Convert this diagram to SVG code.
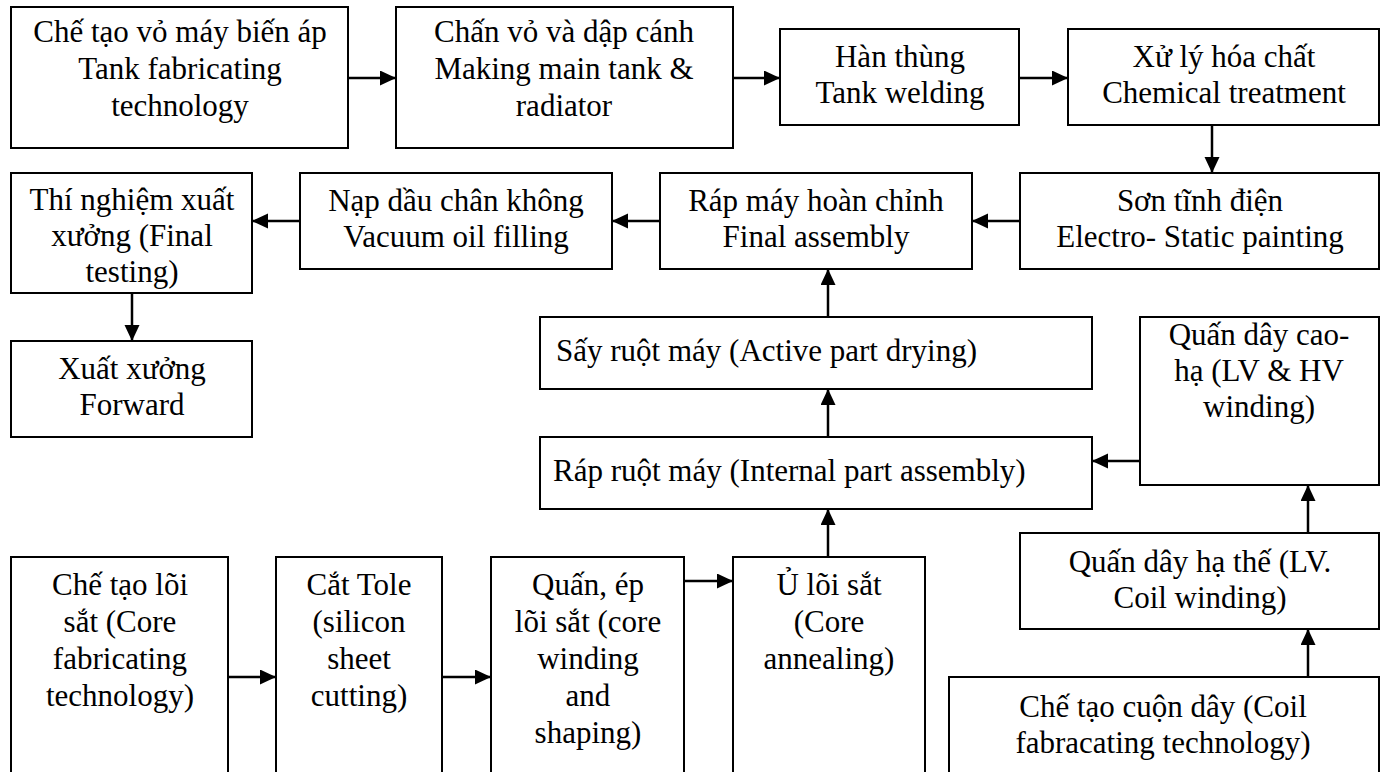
<svg xmlns="http://www.w3.org/2000/svg" width="1386" height="772" viewBox="0 0 1386 772">
<style>
rect{fill:#fff;stroke:#000;stroke-width:2}
text{font-family:"Liberation Serif","Times New Roman",serif;font-size:31px;fill:#000;text-anchor:middle}
text.l{text-anchor:start}
#connectors line{stroke:#000;stroke-width:2.5;marker-end:url(#ah)}
</style>
<defs>
<marker id="ah" markerUnits="userSpaceOnUse" markerWidth="17" markerHeight="16" refX="16" refY="7.5" orient="auto">
<path d="M0,0 L16,7.5 L0,15 z" fill="#000"/>
</marker>
</defs>
<rect x="0" y="0" width="1386" height="772" style="stroke:none"/>
<g id="n1"><rect x="11" y="7" width="337" height="141"/>
<text x="180" y="42">Chế tạo vỏ máy biến áp</text><text x="180" y="79">Tank fabricating</text><text x="180" y="116">technology</text></g>
<g id="n2"><rect x="396" y="7" width="337" height="141"/>
<text x="564" y="42">Chấn vỏ và dập cánh</text><text x="564" y="79">Making main tank &amp;</text><text x="564" y="116">radiator</text></g>
<g id="n3"><rect x="780" y="29" width="239" height="96"/>
<text x="900" y="67">Hàn thùng</text><text x="900" y="103">Tank welding</text></g>
<g id="n4"><rect x="1068" y="29" width="311" height="96"/>
<text x="1224" y="67">Xử lý hóa chất</text><text x="1224" y="103">Chemical treatment</text></g>
<g id="n5"><rect x="1020" y="173" width="359" height="96"/>
<text x="1200" y="211">Sơn tĩnh điện</text><text x="1200" y="247">Electro- Static painting</text></g>
<g id="n8"><rect x="660" y="173" width="312" height="96"/>
<text x="816" y="211">Ráp máy hoàn chỉnh</text><text x="816" y="247">Final assembly</text></g>
<g id="n7"><rect x="300" y="173" width="312" height="96"/>
<text x="456" y="211">Nạp dầu chân không</text><text x="456" y="247">Vacuum oil filling</text></g>
<g id="n6"><rect x="11" y="173" width="241" height="120"/>
<text x="132" y="210">Thí nghiệm xuất</text><text x="132" y="246">xưởng (Final</text><text x="132" y="282">testing)</text></g>
<g id="n18"><rect x="11" y="341" width="241" height="96"/>
<text x="132" y="379">Xuất xưởng</text><text x="132" y="415">Forward</text></g>
<g id="n9"><rect x="540" y="317" width="552" height="72"/>
<text class="l" x="556" y="361">Sấy ruột máy (Active part drying)</text></g>
<g id="n10"><rect x="540" y="437" width="552" height="72"/>
<text class="l" x="553" y="481">Ráp ruột máy (Internal part assembly)</text></g>
<g id="n11"><rect x="1140" y="317" width="239" height="168"/>
<text x="1259" y="345">Quấn dây cao-</text><text x="1259" y="381">hạ (LV &amp; HV</text><text x="1259" y="417">winding)</text></g>
<g id="n12"><rect x="1020" y="533" width="359" height="96"/>
<text x="1200" y="572">Quấn dây hạ thế (LV.</text><text x="1200" y="608">Coil winding)</text></g>
<g id="n13"><rect x="949" y="677" width="430" height="110"/>
<text x="1163" y="717">Chế tạo cuộn dây (Coil</text><text x="1163" y="753">fabracating technology)</text></g>
<g id="n14"><rect x="11" y="557" width="217" height="230"/>
<text x="120" y="595">Chế tạo lõi</text><text x="120" y="632">sắt (Core</text><text x="120" y="669">fabricating</text><text x="120" y="706">technology)</text></g>
<g id="n15"><rect x="276" y="557" width="166" height="230"/>
<text x="359" y="595">Cắt Tole</text><text x="359" y="632">(silicon</text><text x="359" y="669">sheet</text><text x="359" y="706">cutting)</text></g>
<g id="n16"><rect x="491" y="557" width="193" height="230"/>
<text x="588" y="595">Quấn, ép</text><text x="588" y="632">lõi sắt (core</text><text x="588" y="669">winding</text><text x="588" y="706">and</text><text x="588" y="743">shaping)</text></g>
<g id="n17"><rect x="733" y="557" width="192" height="230"/>
<text x="829" y="595">Ủ lõi sắt</text><text x="829" y="632">(Core</text><text x="829" y="669">annealing)</text></g>
<g id="connectors">
<line x1="348" y1="78" x2="396" y2="78"/>
<line x1="733" y1="78" x2="780" y2="78"/>
<line x1="1019" y1="78" x2="1068" y2="78"/>
<line x1="1212" y1="125" x2="1212" y2="173"/>
<line x1="1020" y1="221" x2="972" y2="221"/>
<line x1="660" y1="221" x2="612" y2="221"/>
<line x1="300" y1="221" x2="252" y2="221"/>
<line x1="132" y1="293" x2="132" y2="341"/>
<line x1="828" y1="317" x2="828" y2="269"/>
<line x1="828" y1="437" x2="828" y2="389"/>
<line x1="1140" y1="461" x2="1092" y2="461"/>
<line x1="1308" y1="533" x2="1308" y2="485"/>
<line x1="1308" y1="677" x2="1308" y2="629"/>
<line x1="828" y1="557" x2="828" y2="509"/>
<line x1="228" y1="677" x2="276" y2="677"/>
<line x1="442" y1="677" x2="491" y2="677"/>
<line x1="684" y1="581" x2="733" y2="581"/>
</g>
</svg>
